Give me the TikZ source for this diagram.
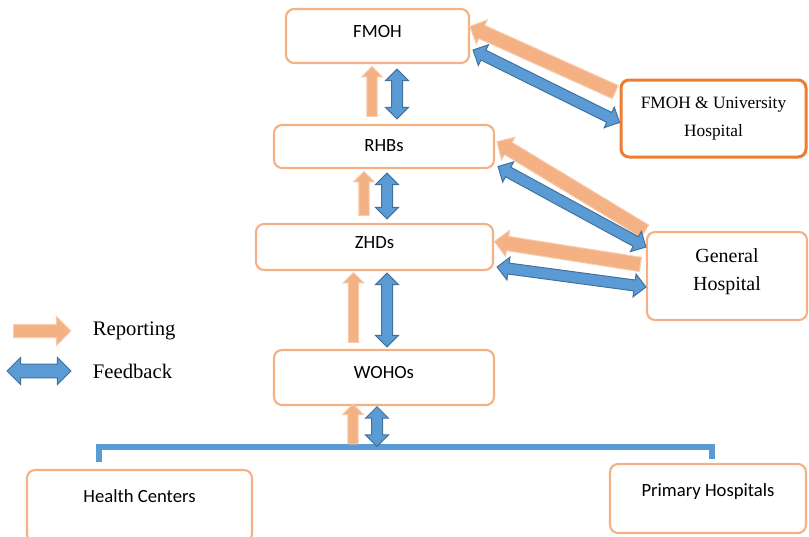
\documentclass[tikz,border=0pt]{standalone}
\usepackage{fontspec}
\setmainfont{Liberation Serif}
\newfontfamily\calibfont{Carlito}
\usetikzlibrary{arrows.meta, positioning, shapes.arrows, calc}

\definecolor{boxedge}{HTML}{F4B183}
\definecolor{univedge}{HTML}{ED7D31}
\definecolor{repfill}{HTML}{F4B183}
\definecolor{repedge}{HTML}{F8CBAD}
\definecolor{fbfill}{HTML}{5B9BD5}
\definecolor{fbedge}{HTML}{41719C}

% fat arrow node stretched between two points, optional gap
\newcommand{\flowarrow}[4][0pt]{%
  \path let \p1=($(#4)-(#3)$), \n1={veclen(\x1,\y1)} in
    (#3) -- node[#2, sloped, allow upside down, minimum height=\n1-#1] {} (#4);}

\begin{document}
\begin{tikzpicture}[
    x=0.75pt, y=-0.75pt,
    box/.style={draw=boxedge, line width=1.6pt, rounded corners=6pt, fill=white, font=\calibfont\fontsize{14}{17}\selectfont},
    report/.style={single arrow, draw=repedge, fill=repfill, line width=0.75pt, inner xsep=0pt, inner ysep=3.5pt, single arrow head extend=4pt},
    widereport/.style={report, inner ysep=5pt, single arrow head extend=4.5pt},
    feedback/.style={double arrow, draw=fbedge, fill=fbfill, line width=0.75pt, inner xsep=0pt, inner ysep=3.75pt, double arrow head extend=4.5pt},
    bracket/.style={draw=fbfill, line width=4.5pt},
    legtext/.style={inner sep=0pt, font=\fontsize{15.5}{18}\selectfont}
]
\useasboundingbox (0,0) rectangle (809,536);

\node[box, minimum width=137.25pt, minimum height=40.5pt, text depth=7.5pt] (fmoh) at (377.5,36) {FMOH};
\node[box, minimum width=165pt, minimum height=32.25pt, text depth=1.5pt] (rhb) at (384,146.5) {RHBs};
\node[box, minimum width=177.75pt, minimum height=34.5pt, text depth=6pt] (zhd) at (374.5,247) {ZHDs};
\node[box, minimum width=165pt, minimum height=41.25pt, text depth=7.5pt] (woho) at (384,377.5) {WOHOs};
\node[box, minimum width=168.75pt, minimum height=54pt, text depth=15pt] (hc) at (139.5,506) {Health Centers};
\node[box, minimum width=147pt, minimum height=51.75pt, text depth=12pt] (ph) at (708,498.5) {Primary Hospitals};
\node[box, draw=univedge, line width=2.25pt, align=center, font=\fontsize{13}{21}\selectfont,
      minimum width=138.75pt, minimum height=57.75pt] (univ) at (713.5,118.5) {FMOH \& University\\Hospital};
\node[box, align=center, font=\fontsize{15}{21}\selectfont, text depth=9pt,
      minimum width=120pt, minimum height=66pt] (gen) at (727,276) {General\\Hospital};

% bracket under WOHOs
\coordinate (hub) at (365,447);
\coordinate (hcl) at ($(hc.north west)+(73,-7)$);
\coordinate (phr) at ($(ph.north)+(4,-4)$);
\draw[bracket] (hcl) |- (hub) -| (phr);

% vertical links
\coordinate (r1) at ($(fmoh.south)+(-5.5,0)$);
\coordinate (f1) at ($(fmoh.south)+(19.5,0)$);
\coordinate (r2) at ($(rhb.south)+(-20,0)$);
\coordinate (f2) at ($(rhb.south)+(3,0)$);
\coordinate (r3) at ($(zhd.south)+(-21,0)$);
\coordinate (f3) at ($(zhd.south)+(12.5,0)$);
\coordinate (r4) at ($(woho.south)+(-31,0)$);
\coordinate (f4) at ($(woho.south)+(-7,0)$);
\flowarrow[7.5pt]{report}{r1 |- rhb.north}{r1}
\flowarrow[7.5pt]{feedback}{f1 |- rhb.north}{f1}
\flowarrow[7.5pt]{report}{r2 |- zhd.north}{r2}
\flowarrow[6pt]{feedback}{f2 |- zhd.north}{f2}
\flowarrow[6pt]{report}{r3 |- woho.north}{r3}
\flowarrow[3pt]{feedback}{f3 |- woho.north}{f3}
\flowarrow[1pt]{report}{r4 |- hub}{r4}
\flowarrow[1pt]{feedback}{f4 |- hub}{f4}

% side links
\coordinate (ua) at ($(univ.west)+(-1,-25)$);
\coordinate (fa) at ($(fmoh.east)+(3,-8)$);
\coordinate (fb) at ($(fmoh.east)+(3,14)$);
\coordinate (ub) at ($(univ.west)+(0,4)$);
\flowarrow{widereport}{ua}{fa}
\flowarrow{feedback}{fb}{ub}

\coordinate (ga) at ($(gen.west)+(2,-43)$);
\coordinate (ra) at ($(rhb.east)+(5,-3)$);
\coordinate (rb) at ($(rhb.east)+(3,20)$);
\coordinate (gb) at ($(gen.west)+(0,-29)$);
\flowarrow{widereport}{ga}{ra}
\flowarrow{feedback}{rb}{gb}

\coordinate (gc) at ($(gen.west)+(-2,-11)$);
\coordinate (za) at ($(zhd.east)+(4,-5)$);
\coordinate (zb) at ($(zhd.east)+(3,20)$);
\coordinate (gd) at ($(gen.west)+(0,11)$);
\flowarrow{widereport}{gc}{za}
\flowarrow{feedback}{zb}{gd}

% legend
\node[report, inner ysep=4.5pt, single arrow head extend=6pt, minimum height=43pt] (legrep) at (39,331) {};
\node[feedback, inner ysep=4.8pt, double arrow head extend=5pt, minimum height=48pt] (legfb) at (39,371) {};
\node[legtext, right=15.75pt of legrep] (reptext) {Reporting};
\node[legtext, right=15.75pt of legfb] (fbtext) {Feedback};
\end{tikzpicture}
\end{document}
